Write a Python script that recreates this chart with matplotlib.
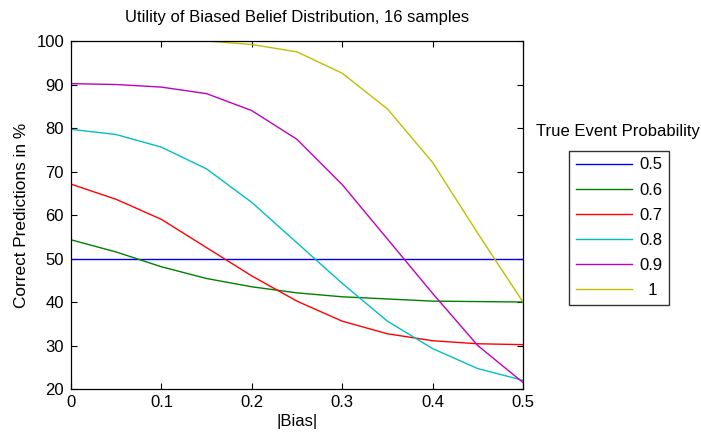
import numpy as np
import matplotlib
matplotlib.use("Agg")
import matplotlib.pyplot as plt

plt.rcParams['font.family'] = ['Liberation Sans', 'DejaVu Sans']
plt.rcParams['font.size'] = 12

bias = [0, 0.05, 0.1, 0.15, 0.2, 0.25, 0.3, 0.35, 0.4, 0.45, 0.5]
probs = ['0.5', '0.6', '0.7', '0.8', '0.9', '  1']
p05 = [50, 50, 50, 50, 50, 50, 50, 50, 50, 50, 50]
p06 = [54.3, 51.5, 48.1, 45.4, 43.5, 42.1, 41.2, 40.7, 40.2, 40.1, 40.0]
p07 = [67.1, 63.6, 59.0, 52.5, 46.0, 40.2, 35.6, 32.7, 31.1, 30.4, 30.2]
p08 = [79.7, 78.5, 75.6, 70.6, 62.9, 53.6, 44.3, 35.6, 29.3, 24.7, 22.0]
p09 = [90.2, 90.0, 89.4, 87.9, 84.0, 77.4, 67.0, 54.5, 42.0, 30.0, 21.5]
p10 = [100, 100, 100, 100, 99.2, 97.5, 92.6, 84.4, 72.1, 55.8, 40.0]
series = [p05, p06, p07, p08, p09, p10]
colors = [(0, 0, 1), (0, 0.5, 0), (1, 0, 0), (0, 0.75, 0.75), (0.75, 0, 0.75), (0.75, 0.75, 0)]

fig = plt.figure(figsize=(7.01, 4.33), dpi=100)
ax = fig.add_axes([0.1013, 0.1016, 0.6447, 0.8037])

for vals, c, lab in zip(series, colors, probs):
    ax.plot(bias, vals, color=c, lw=1.0, label=lab, zorder=2)

ax.set_xlim(0, 0.5)
ax.set_ylim(20, 100)
ax.set_xticks(bias[::2])
ax.set_xticklabels(['0', '0.1', '0.2', '0.3', '0.4', '0.5'])
ax.set_yticks(range(20, 101, 10))
ax.tick_params(direction='in', top=True, right=True, length=4, width=0.8, labelsize=12)
ax.tick_params(axis='x', pad=4.5)
ax.tick_params(axis='y', pad=5)
for s in ax.spines.values():
    s.set_linewidth(0.9)
    s.set_zorder(3)

ax.set_title('Utility of Biased Belief Distribution, 16 samples', fontsize=12, pad=14)
ax.set_xlabel('|Bias|', fontsize=12, labelpad=3)
ax.set_ylabel('Correct Predictions in %', fontsize=12.4, labelpad=5)

fig.text(0.881, 0.696, 'True Event Probability', ha='center', va='center', fontsize=12)
leg = fig.legend(loc='upper left', bbox_to_anchor=(0.8117, 0.652), frameon=True,
                 fancybox=False, edgecolor='black', handlelength=3.4,
                 handletextpad=0.4, labelspacing=0.61, borderpad=0.4,
                 borderaxespad=0, fontsize=12)
leg.get_frame().set_linewidth(1.0)

fig.savefig('out.png', dpi=100)
